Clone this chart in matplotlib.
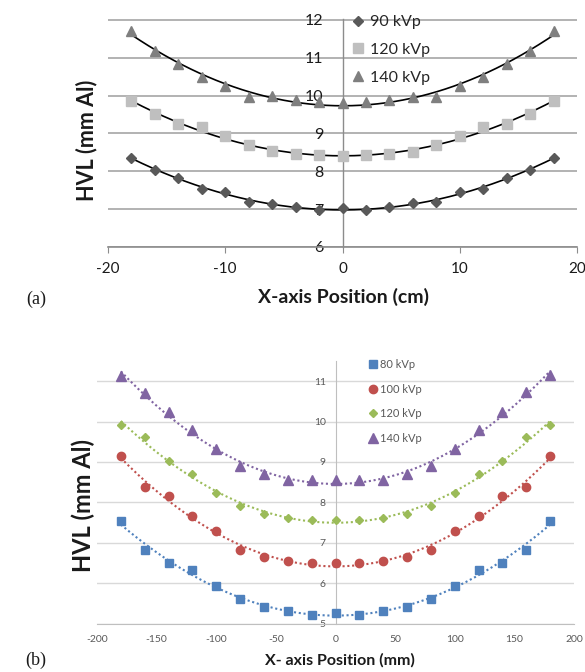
import numpy as np
import matplotlib
matplotlib.use('Agg')
import matplotlib.pyplot as plt

plt.rcParams['font.family'] = ['Lato', 'DejaVu Sans']
plt.rcParams['axes.unicode_minus'] = False

# ---------------- data (a) ----------------
x_a = [-18, -16, -14, -12, -10, -8, -6, -4, -2, 0, 2, 4, 6, 8, 10, 12, 14, 16, 18]
hvl_90 = [8.36, 8.04, 7.83, 7.53, 7.44, 7.19, 7.13, 7.06, 6.99, 7.04,
          6.97, 7.06, 7.15, 7.19, 7.46, 7.52, 7.83, 8.04, 8.36]
hvl_120a = [9.85, 9.52, 9.24, 9.17, 8.92, 8.68, 8.53, 8.46, 8.42, 8.39,
            8.42, 8.46, 8.51, 8.68, 8.92, 9.18, 9.24, 9.52, 9.85]
hvl_140a = [11.71, 11.18, 10.83, 10.50, 10.24, 9.97, 10.00, 9.87, 9.83, 9.80,
            9.84, 9.87, 9.97, 9.97, 10.24, 10.48, 10.82, 11.18, 11.71]
labels_a = ['90 kVp', '120 kVp', '140 kVp']
xticks_a = [-20, -10, 0, 10, 20]
yticks_a = [6, 7, 8, 9, 10, 11, 12]

# ---------------- data (b) ----------------
x_b = [-180, -160, -140, -120, -100, -80, -60, -40, -20, 0,
       20, 40, 60, 80, 100, 120, 140, 160, 180]
hvl_80 = [7.55, 6.82, 6.51, 6.32, 5.93, 5.60, 5.40, 5.31, 5.22, 5.26,
          5.22, 5.31, 5.40, 5.60, 5.93, 6.32, 6.51, 6.82, 7.55]
hvl_100 = [9.14, 8.38, 8.16, 7.67, 7.28, 6.82, 6.64, 6.54, 6.50, 6.50,
           6.50, 6.54, 6.64, 6.82, 7.28, 7.67, 8.16, 8.37, 9.14]
hvl_120b = [9.91, 9.61, 9.03, 8.69, 8.23, 7.92, 7.71, 7.61, 7.57, 7.57,
            7.57, 7.61, 7.71, 7.92, 8.23, 8.69, 9.03, 9.61, 9.91]
hvl_140b = [11.14, 10.71, 10.23, 9.78, 9.31, 8.89, 8.69, 8.56, 8.55, 8.55,
            8.55, 8.56, 8.69, 8.89, 9.31, 9.78, 10.23, 10.73, 11.15]
labels_b = ['80 kVp', '100 kVp', '120 kVp', '140 kVp']
xticks_b = [-200, -150, -100, -50, 0, 50, 100, 150, 200]
yticks_b = [5, 6, 7, 8, 9, 10, 11]

W, H = 585, 672
fig = plt.figure(figsize=(W / 100, H / 100), dpi=100)


def rect(l, t, r, b):
    return [l / W, 1 - b / H, (r - l) / W, (b - t) / H]


def trend(x, y, n=200):
    c = np.polyfit(x, y, 2)
    xs = np.linspace(min(x), max(x), n)
    return xs, np.polyval(c, xs)


# ================= panel (a) =================
ax1 = fig.add_axes(rect(108, 19, 577, 247))
ax1.set_xlim(-20, 20)
ax1.set_ylim(6, 12.02)
for s in ['top', 'right']:
    ax1.spines[s].set_visible(False)
ax1.spines['left'].set_position(('data', 0))
ax1.spines['left'].set_color('#8c8c8c')
ax1.spines['bottom'].set_color('#8c8c8c')
ax1.spines['left'].set_linewidth(1.0)
ax1.spines['bottom'].set_linewidth(1.2)
ax1.set_yticks(yticks_a)
ax1.set_xticks(xticks_a)
ax1.yaxis.grid(True, color='#a6a6a6', lw=1.2)
ax1.set_axisbelow(True)
ax1.tick_params(axis='x', direction='out', length=4, color='#8c8c8c',
                labelsize=11, pad=7, labelcolor='#1a1a1a')
ax1.tick_params(axis='y', length=0, labelsize=11.5, pad=14, labelcolor='#1a1a1a')

styles_a = [('D', '#595959', 5.2), ('s', '#bfbfbf', 7.5), ('^', '#7f7f7f', 7.8)]
handles = []
for y, lab, (m, c, ms) in zip([hvl_90, hvl_120a, hvl_140a], labels_a, styles_a):
    xs, ys = trend(x_a, y)
    ax1.plot(xs, ys, color='black', lw=1.2, zorder=3)
    h, = ax1.plot(x_a, y, linestyle='none', marker=m, color=c, ms=ms,
                  label=lab, zorder=4)
    handles.append(h)
ax1.legend(handles=handles, loc='upper left',
           bbox_to_anchor=(350 / W, 1 - 15 / H), bbox_transform=fig.transFigure,
           frameon=False, fontsize=11.5, handlelength=1.0, handletextpad=0.25,
           labelspacing=0.85, borderpad=0, borderaxespad=0, numpoints=1,
           labelcolor='#262626')

fig.text(87 / W, 1 - 140 / H, 'HVL (mm Al)', rotation=90, fontsize=15.5,
         fontweight='bold', ha='center', va='center', color='#1a1a1a')
fig.text(343 / W, 1 - 297 / H, 'X-axis Position (cm)', fontsize=14,
         fontweight='bold', ha='center', va='center', color='#1a1a1a')
fig.text(36 / W, 1 - 299 / H, '(a)', family='Liberation Serif', fontsize=13,
         ha='center', va='center', color='#1a1a1a')

# ================= panel (b) =================
ax2 = fig.add_axes(rect(97, 361, 574, 623.5))
ax2.set_xlim(-200, 200)
ax2.set_ylim(5, 11.5)
for s in ['top', 'right']:
    ax2.spines[s].set_visible(False)
ax2.spines['left'].set_position(('data', 0))
ax2.spines['left'].set_color('#bfbfbf')
ax2.spines['bottom'].set_color('#bfbfbf')
ax2.set_xticks(xticks_b)
ax2.set_yticks(yticks_b)
ax2.yaxis.grid(True, color='#d9d9d9', lw=1.0)
ax2.set_axisbelow(True)
ax2.tick_params(axis='x', length=0, labelsize=7.5, pad=8, labelcolor='#595959')
ax2.tick_params(axis='y', length=0, labelsize=7.5, pad=7, labelcolor='#595959')

styles_b = [('s', '#4f81bd', 5.5), ('o', '#c0504d', 6), ('D', '#9bbb59', 3.8),
            ('^', '#8064a2', 6.5)]
handles = []
for y, lab, (m, c, ms) in zip([hvl_80, hvl_100, hvl_120b, hvl_140b], labels_b, styles_b):
    xs, ys = trend(x_b, y)
    ax2.plot(xs, ys, color=c, lw=1.5, linestyle=(0, (1, 1.3)), zorder=3)
    h, = ax2.plot(x_b, y, linestyle='none', marker=m, color=c, ms=ms,
                  label=lab, zorder=4)
    handles.append(h)
ax2.legend(handles=handles, loc='upper left',
           bbox_to_anchor=(367 / W, 1 - 359 / H), bbox_transform=fig.transFigure,
           frameon=False, fontsize=8, handlelength=1.0, handletextpad=0.2,
           labelspacing=1.22, borderpad=0, borderaxespad=0, numpoints=1,
           labelcolor='#595959')

fig.text(83 / W, 1 - 505 / H, 'HVL (mm Al)', rotation=90, fontsize=17,
         fontweight='bold', ha='center', va='center', color='#1a1a1a')
fig.text(340 / W, 1 - 660 / H, 'X- axis Position (mm)', fontsize=11.5,
         fontweight='bold', ha='center', va='center', color='#1a1a1a')
fig.text(36 / W, 1 - 660 / H, '(b)', family='Liberation Serif', fontsize=13,
         ha='center', va='center', color='#1a1a1a')

fig.savefig('out.png', dpi=100, facecolor='white')
